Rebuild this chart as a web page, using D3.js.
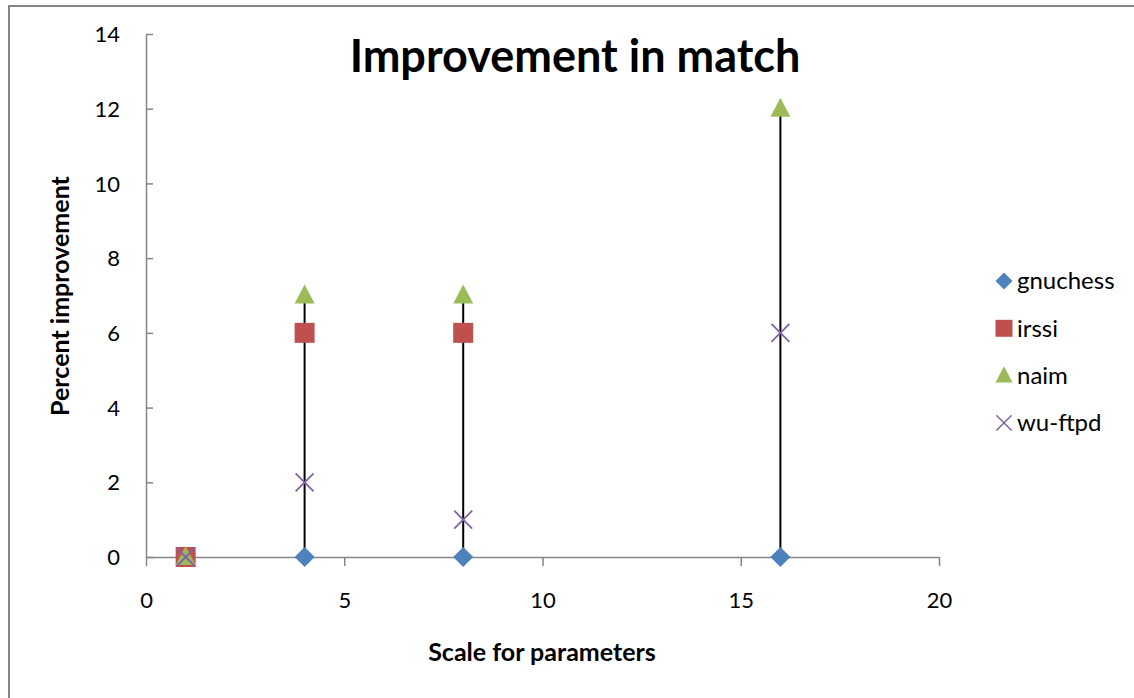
<!DOCTYPE html>
<html>
<head>
<meta charset="utf-8">
<script src="https://cdn.jsdelivr.net/npm/d3@7"></script>
<style>
  body { margin: 0; background: #fff; }
  text { font-family: Lato, "Open Sans", sans-serif; fill: #000; }
</style>
</head>
<body>
<div id="chart"></div>
<script>
// данные
const scaleValues = [1, 4, 8, 16];
const gnuchess = [0, 0, 0, 0];
const irssi = [0, 6, 6, null];
const naim = [0, 7, 7, 12];
const wuftpd = [0, 2, 1, 6];

const seriesNames = ["gnuchess", "irssi", "naim", "wu-ftpd"];
const seriesValues = [gnuchess, irssi, naim, wuftpd];
const seriesColors = ["#4F81BD", "#C0504D", "#9BBB59", "#8064A2"];
const seriesShapes = ["diamond", "square", "triangle", "cross"];

const xTicks = [0, 5, 10, 15, 20];
const yTicks = [0, 2, 4, 6, 8, 10, 12, 14];

const width = 1134, height = 698;

const svg = d3.select("#chart").append("svg")
    .attr("width", width)
    .attr("height", height);

// рамка (видны только левая и верхняя стороны)
svg.append("path")
    .attr("d", `M9,${height} V6 H${width}`)
    .attr("fill", "none")
    .attr("stroke", "#868686")
    .attr("stroke-width", 2);

const x = d3.scaleLinear().domain([0, 20]).range([146, 939]);
const y = d3.scaleLinear().domain([0, 14]).range([557, 34]);

const axisColor = "#868686";

// ось Y (засечки внутрь)
const yAxis = svg.append("g")
    .attr("transform", `translate(${x(0)},0)`)
    .call(d3.axisLeft(y).tickValues(yTicks).tickSize(-7).tickPadding(0).tickSizeOuter(0));
yAxis.select(".domain").attr("stroke", axisColor).attr("stroke-width", 1.5);
yAxis.selectAll(".tick line").attr("stroke", axisColor).attr("stroke-width", 1.5);
yAxis.selectAll(".tick text").style("font-size", "22px").attr("dy", "0.35em").attr("x", -26);

// ось X (засечки наружу)
const xAxis = svg.append("g")
    .attr("transform", `translate(0,${y(0)})`)
    .call(d3.axisBottom(x).tickValues(xTicks).tickSize(9).tickPadding(0).tickSizeOuter(0));
xAxis.select(".domain").attr("stroke", axisColor).attr("stroke-width", 1.5);
xAxis.selectAll(".tick line").attr("stroke", axisColor).attr("stroke-width", 1.5);
xAxis.selectAll(".tick text").style("font-size", "22px").attr("dy", null).attr("y", 51);

// вертикальные линии от минимума до максимума
const hiLo = scaleValues.map((s, i) => {
    const vals = seriesValues.map(v => v[i]).filter(v => v != null);
    return { s, lo: d3.min(vals), hi: d3.max(vals) };
});
svg.append("g").selectAll("line")
    .data(hiLo.filter(d => d.hi > d.lo))
    .join("line")
    .attr("x1", d => x(d.s)).attr("x2", d => x(d.s))
    .attr("y1", d => y(d.lo)).attr("y2", d => y(d.hi))
    .attr("stroke", "#000")
    .attr("stroke-width", 2);

function markerPath(shape) {
    switch (shape) {
        case "diamond": return "M0,-10 L10,0 L0,10 L-10,0 Z";
        case "square": return "M-10,-10 H10 V10 H-10 Z";
        case "triangle": return "M0,-11 L10,8 L-10,8 Z";
        case "cross": return "M-9,-9 L9,9 M9,-9 L-9,9";
    }
}

function drawMarker(g, shape, color) {
    const p = g.append("path").attr("d", markerPath(shape));
    if (shape === "cross") {
        p.attr("fill", "none").attr("stroke", color).attr("stroke-width", 1.8);
    } else {
        p.attr("fill", color);
    }
}

// точки
seriesValues.forEach((vals, si) => {
    const g = svg.append("g");
    vals.forEach((v, i) => {
        if (v == null) return;
        const m = g.append("g").attr("transform", `translate(${x(scaleValues[i])},${y(v)})`);
        drawMarker(m, seriesShapes[si], seriesColors[si]);
    });
});

// заголовок
svg.append("text")
    .attr("x", 575).attr("y", 72)
    .attr("text-anchor", "middle")
    .style("font-size", "45px")
    .style("font-weight", "bold")
    .text("Improvement in match");

// подписи осей
svg.append("text")
    .attr("x", 542).attr("y", 661)
    .attr("text-anchor", "middle")
    .style("font-size", "25px")
    .style("font-weight", "bold")
    .text("Scale for parameters");

svg.append("text")
    .attr("transform", "translate(69,296) rotate(-90)")
    .attr("text-anchor", "middle")
    .style("font-size", "25px")
    .style("font-weight", "bold")
    .text("Percent improvement");

// легенда
const legend = svg.append("g").attr("transform", "translate(1004,281)");
seriesNames.forEach((name, i) => {
    const row = legend.append("g").attr("transform", `translate(0,${i * 47.3})`);
    const m = row.append("g").attr("transform", "scale(0.85)");
    drawMarker(m, seriesShapes[i], seriesColors[i]);
    row.append("text")
        .attr("x", 13).attr("dy", "0.35em")
        .style("font-size", "24px")
        .text(name);
});
</script>
</body>
</html>
